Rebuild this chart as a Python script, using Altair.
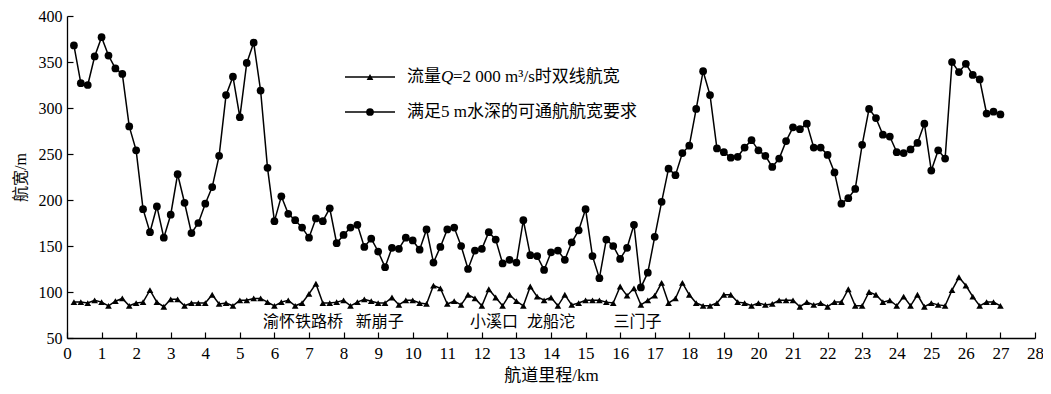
import altair as alt
import pandas as pd

# ---- data ----
n_points = 135
km = [round(0.2 * (i + 1), 1) for i in range(n_points)]

depth_width = [
    368, 327, 325, 356, 377, 357, 343, 337, 280, 254,
    190, 165, 193, 159, 184, 228, 197, 164, 175, 196,
    214, 248, 314, 334, 290, 349, 371, 319, 235, 177,
    204, 185, 178, 170, 159, 180, 177, 191, 153, 162,
    170, 173, 149, 158, 144, 127, 148, 147, 159, 156,
    146, 168, 132, 149, 168, 170, 150, 125, 145, 147,
    165, 157, 131, 135, 132, 178, 140, 139, 124, 143,
    145, 135, 154, 167, 190, 139, 115, 157, 150, 136,
    148, 173, 105, 121, 160, 198, 234, 227, 251, 259,
    299, 340, 314, 256, 252, 246, 247, 257, 265, 254,
    248, 236, 245, 264, 279, 277, 283, 257, 257, 249,
    230, 196, 202, 212, 260, 299, 289, 271, 269, 252,
    251, 255, 262, 283, 232, 254, 245, 350, 339, 348,
    336, 331, 294, 296, 293,
]

double_lane = [
    89, 89, 88, 91, 89, 85, 90, 93, 85, 88,
    89, 102, 89, 84, 92, 92, 85, 88, 88, 88,
    97, 87, 88, 85, 91, 91, 93, 93, 89, 85,
    89, 91, 85, 88, 98, 109, 88, 88, 89, 91,
    85, 89, 92, 90, 88, 88, 94, 86, 91, 91,
    88, 87, 107, 104, 87, 90, 86, 97, 93, 85,
    103, 94, 85, 97, 90, 85, 106, 95, 91, 94,
    85, 97, 86, 88, 91, 91, 91, 89, 88, 106,
    96, 104, 86, 91, 96, 110, 88, 93, 110, 97,
    88, 85, 85, 88, 97, 97, 89, 88, 85, 88,
    86, 87, 91, 91, 91, 84, 89, 86, 88, 84,
    89, 89, 103, 85, 85, 100, 97, 89, 91, 85,
    95, 85, 97, 84, 88, 86, 85, 102, 116, 107,
    95, 85, 89, 89, 85,
]

place_names = ["渝怀铁路桥", "新崩子", "小溪口", "龙船沱", "三门子"]
place_km = [6.83, 9.05, 12.35, 14.0, 16.5]
place_y = [67, 67, 67, 67, 67]

x_ticks = list(range(0, 29))
y_ticks = [50, 100, 150, 200, 250, 300, 350, 400]

W, H = 968, 322
SERIF = "Liberation Serif, Times New Roman, Noto Sans CJK SC"

df_c = pd.DataFrame({"km": km, "val": depth_width})
df_t = pd.DataFrame({"km": km, "val": double_lane})
df_p = pd.DataFrame({"km": place_km, "val": place_y, "name": place_names})

xscale = alt.Scale(domain=[0, 28], nice=False, zero=False)
yscale = alt.Scale(domain=[50, 400], nice=False, zero=False)

main_x_axis = alt.Axis(values=x_ticks, ticks=False, grid=False, domainColor="black",
                       domainWidth=1.3, labelFont=SERIF, labelFontSize=17, labelColor="black",
                       labelPadding=7, title="航道里程/km", titleFont=SERIF, titleFontSize=17,
                       titleFontWeight="normal", titleColor="black", titlePadding=6,
                       labelFlush=False)
main_y_axis = alt.Axis(values=y_ticks, ticks=False, grid=False, domainColor="black",
                       domainWidth=1.3, labelFont=SERIF, labelFontSize=16, labelColor="black",
                       labelPadding=5, title="航宽/m", titleFont=SERIF, titleFontSize=16,
                       titleFontWeight="normal", titleColor="black", titlePadding=10,
                       labelFlush=False)
tick_x_axis = alt.Axis(orient="top", offset=-H, values=x_ticks, labels=False, domain=False,
                       grid=False, tickSize=6, tickColor="black", tickWidth=1.2, title=None)
tick_y_axis = alt.Axis(orient="right", offset=-W, values=y_ticks, labels=False, domain=False,
                       grid=False, tickSize=6, tickColor="black", tickWidth=1.2, title=None)

line_c = alt.Chart(df_c).mark_line(color="black", strokeWidth=1.5).encode(
    x=alt.X("km:Q", scale=xscale, axis=main_x_axis),
    y=alt.Y("val:Q", scale=yscale, axis=main_y_axis),
)
pts_c = alt.Chart(df_c).mark_point(shape="circle", filled=True, size=60, color="black", opacity=1).encode(
    x=alt.X("km:Q", scale=xscale, axis=tick_x_axis),
    y=alt.Y("val:Q", scale=yscale, axis=tick_y_axis),
)
line_t = alt.Chart(df_t).mark_line(color="black", strokeWidth=1.5).encode(
    x=alt.X("km:Q", scale=xscale, axis=None),
    y=alt.Y("val:Q", scale=yscale, axis=None),
)
pts_t = alt.Chart(df_t).mark_point(shape="triangle-up", filled=True, size=45, color="black", opacity=1).encode(
    x=alt.X("km:Q", scale=xscale, axis=None),
    y=alt.Y("val:Q", scale=yscale, axis=None),
)
places = alt.Chart(df_p).mark_text(font="Noto Sans CJK SC", fontSize=16, color="black",
                                   align="center", baseline="middle").encode(
    x=alt.X("km:Q", scale=xscale, axis=None),
    y=alt.Y("val:Q", scale=yscale, axis=None),
    text="name:N",
)

# ---- manual legend ----
leg_rows = [61, 96]
leg_df = pd.DataFrame({"row": [0]})
leg_line1 = alt.Chart(leg_df).mark_rule(color="black", strokeWidth=1.5).encode(
    x=alt.value(278), x2=alt.value(328), y=alt.value(leg_rows[0]))
leg_line2 = alt.Chart(leg_df).mark_rule(color="black", strokeWidth=1.5).encode(
    x=alt.value(278), x2=alt.value(328), y=alt.value(leg_rows[1]))
leg_tri = alt.Chart(leg_df).mark_point(shape="triangle-up", filled=True, size=45, color="black", opacity=1).encode(
    x=alt.value(303), y=alt.value(leg_rows[0]))
leg_cir = alt.Chart(leg_df).mark_point(shape="circle", filled=True, size=60, color="black", opacity=1).encode(
    x=alt.value(303), y=alt.value(leg_rows[1]))

def txt(s, x, y, italic=False):
    return alt.Chart(leg_df).mark_text(
        text=s, font=SERIF, fontSize=17, color="black", align="left", baseline="middle",
        fontStyle="italic" if italic else "normal",
    ).encode(x=alt.value(x), y=alt.value(y))

leg_t1a = txt("流量", 340, leg_rows[0])
leg_t1b = txt("Q", 374, leg_rows[0], italic=True)
leg_t1c = txt("=2 000 m³/s时双线航宽", 386, leg_rows[0])
leg_t2 = txt("满足5 m水深的可通航航宽要求", 340, leg_rows[1])

chart = alt.layer(
    line_c, pts_c, line_t, pts_t, places,
    leg_line1, leg_line2, leg_tri, leg_cir, leg_t1a, leg_t1b, leg_t1c, leg_t2,
).resolve_axis(x="independent", y="independent").properties(
    width=W, height=H,
    padding={"left": 59, "top": 8, "right": 8, "bottom": 48},
    autosize=alt.AutoSizeParams(type="none"),
    background="white",
).configure_view(stroke=None)

chart.save("out.html", embed_options={"renderer": "svg", "actions": False})
